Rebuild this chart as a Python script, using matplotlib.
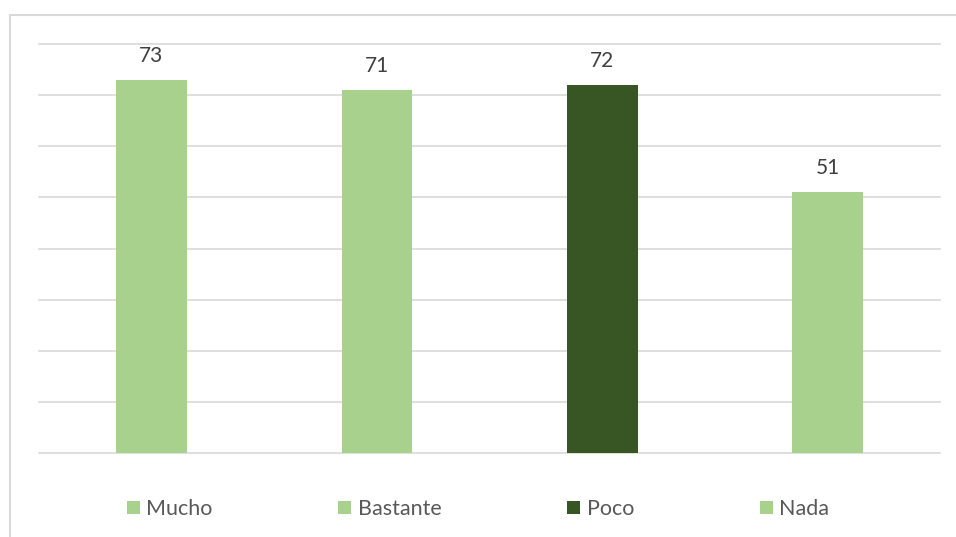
import matplotlib.pyplot as plt
from matplotlib.patches import Rectangle, Patch

plt.rcParams['font.family'] = ['Lato', 'DejaVu Sans']

# datos de la encuesta
categorias = ['Mucho', 'Bastante', 'Poco', 'Nada']
valores = [73, 71, 72, 51]
colores = ['#A9D18E', '#A9D18E', '#375623', '#A9D18E']

W, H = 956, 537
fig = plt.figure(figsize=(W / 100, H / 100), dpi=100)

# marco exterior del gráfico (solo se ven los bordes izquierdo y superior)
fig.patches.append(Rectangle((9.5 / W, -0.1), 1.2, 1 - 14.5 / H + 0.1,
                             transform=fig.transFigure, fill=False,
                             edgecolor='#D9D9D9', linewidth=1.5))

ax = fig.add_axes([38.7 / W, 1 - 453.3 / H, (940.4 - 38.7) / W, (453.3 - 44) / H])
x = range(len(categorias))
barras = ax.bar(x, valores, width=0.313, color=colores, zorder=3)

ax.set_xlim(-0.5, 3.5)
ax.set_ylim(0, 80)
ax.set_yticks(range(0, 81, 10))
ax.grid(axis='y', color='#D9D9D9', linewidth=1.2, zorder=0)
for g in ax.get_ygridlines():
    g.set_clip_on(False)
ax.set_xticks([])
ax.tick_params(left=False, labelleft=False)
for s in ax.spines.values():
    s.set_visible(False)

for b, v in zip(barras, valores):
    ax.annotate(str(v), (b.get_x() + b.get_width() / 2, v), xytext=(0, 10),
                textcoords='offset points', ha='center', va='bottom',
                fontsize=15, color='#404040', clip_on=False)

handles = [Patch(facecolor=c) for c in colores]
fig.legend(handles, categorias, loc='center', bbox_to_anchor=(0.5, 1 - 509 / H),
           ncol=4, frameon=False, fontsize=15.5, labelcolor='#595959',
           handlelength=0.6, handleheight=0.6, handletextpad=0.3,
           columnspacing=5.85)

fig.savefig('out.png', dpi=100)
